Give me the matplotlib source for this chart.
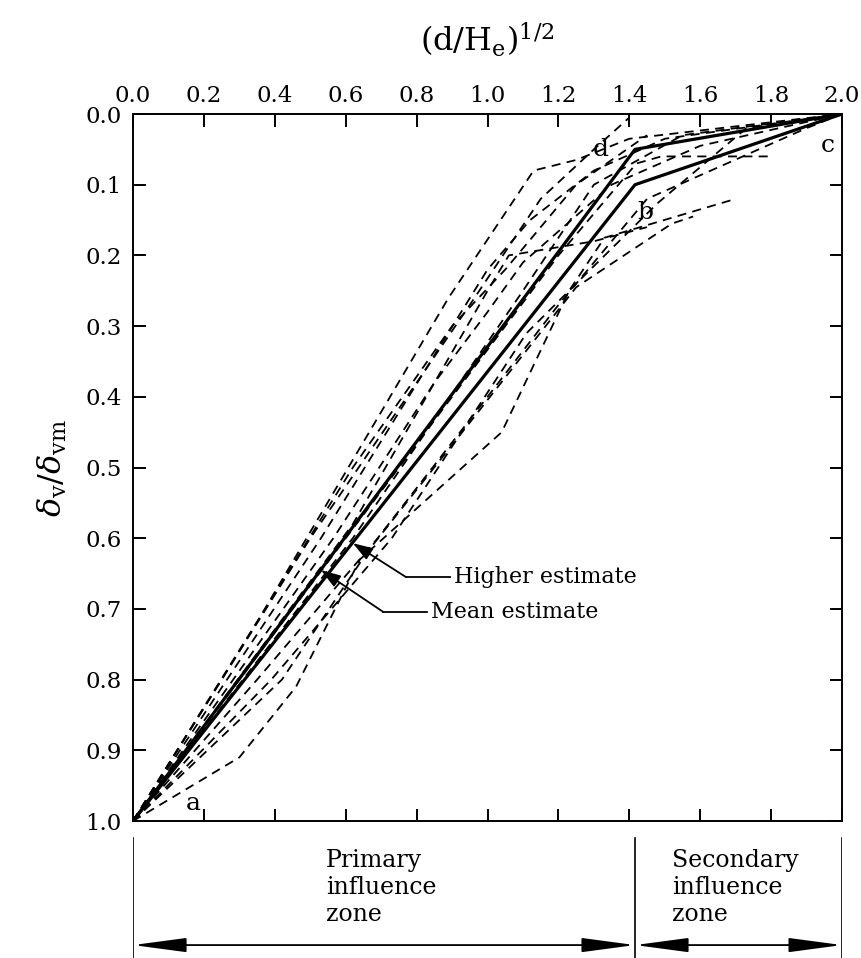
import numpy as np
import matplotlib.pyplot as plt

plt.rcParams['font.family'] = 'DejaVu Serif'
plt.rcParams['mathtext.fontset'] = 'dejavuserif'

# solid design lines  a-d-c (mean) and a-b-c (higher)
mean_x = [0.0, 1.416, 2.0]
mean_y = [1.0, 0.05, 0.0]
high_x = [0.0, 1.416, 2.0]
high_y = [1.0, 0.10, 0.0]

# case history curves (dashed)
case_x = [
    [0.0, 0.36, 0.89, 1.13, 1.25, 1.40, 2.0],
    [0.0, 0.50, 0.95, 1.15, 1.30, 1.40],
    [0.0, 0.53, 1.00, 1.12, 1.30, 1.50, 2.0],
    [0.0, 0.565, 0.85, 1.00, 1.10, 1.35, 1.60, 2.0],
    [0.0, 0.62, 1.00, 1.06, 1.30, 1.45],
    [0.0, 0.60, 1.20, 1.42, 1.49, 1.80],
    [0.0, 0.62, 1.10, 1.30, 1.55, 2.0],
    [0.0, 0.35, 0.69, 1.00, 1.20, 1.45, 1.90, 2.0],
    [0.0, 0.39, 0.73, 1.11, 1.28, 1.48, 1.73, 2.0],
    [0.0, 0.42, 0.66, 0.96, 1.25, 1.52, 1.58],
    [0.0, 0.30, 0.46, 0.64, 1.04, 1.23, 1.33, 1.70],
    [0.0, 0.25, 0.62, 0.90, 1.05, 1.25, 1.45],
]
case_y = [
    [1.0, 0.71, 0.26, 0.08, 0.065, 0.035, 0.0],
    [1.0, 0.60, 0.27, 0.12, 0.05, 0.005],
    [1.0, 0.60, 0.22, 0.15, 0.08, 0.035, 0.0],
    [1.0, 0.60, 0.38, 0.28, 0.21, 0.10, 0.045, 0.0],
    [1.0, 0.58, 0.25, 0.20, 0.18, 0.16],
    [1.0, 0.60, 0.20, 0.07, 0.06, 0.06],
    [1.0, 0.60, 0.25, 0.10, 0.03, 0.0],
    [1.0, 0.80, 0.60, 0.40, 0.27, 0.12, 0.02, 0.0],
    [1.0, 0.80, 0.60, 0.31, 0.225, 0.126, 0.02, 0.0],
    [1.0, 0.80, 0.62, 0.43, 0.245, 0.155, 0.145],
    [1.0, 0.91, 0.81, 0.63, 0.45, 0.25, 0.175, 0.12],
    [1.0, 0.80, 0.50, 0.30, 0.22, 0.10, 0.03],
]

point_labels = ['a', 'b', 'c', 'd']
point_pos = [(0.17, 0.975), (1.445, 0.14), (1.96, 0.044), (1.32, 0.05)]

xticks = np.round(np.arange(0, 2.01, 0.2), 1)
yticks = np.round(np.arange(0, 1.01, 0.1), 1)

fig = plt.figure(figsize=(8.61, 9.58), dpi=100)
ax = fig.add_axes([0.1545, 0.143, 0.8235, 0.738])

for xs, ys in zip(case_x, case_y):
    ax.plot(xs, ys, color='black', lw=1.3, ls=(0, (5, 3.5)))

ax.plot(mean_x, mean_y, color='black', lw=2.3)
ax.plot(high_x, high_y, color='black', lw=2.3)

for lab, (px, py) in zip(point_labels, point_pos):
    ax.text(px, py, lab, fontsize=18, ha='center', va='center')

# leaders for the two estimates
ax.plot([0.895, 0.77], [0.655, 0.655], color='black', lw=1.3)
ax.annotate('', xy=(0.62, 0.607), xytext=(0.77, 0.655),
            arrowprops=dict(arrowstyle='-|>,head_length=0.6,head_width=0.2',
                            lw=1.3, color='black',
                            mutation_scale=20, shrinkA=0, shrinkB=0))
ax.text(0.905, 0.655, 'Higher estimate', fontsize=16, ha='left', va='center')

ax.plot([0.83, 0.705], [0.704, 0.704], color='black', lw=1.3)
ax.annotate('', xy=(0.53, 0.645), xytext=(0.705, 0.704),
            arrowprops=dict(arrowstyle='-|>,head_length=0.6,head_width=0.2',
                            lw=1.3, color='black',
                            mutation_scale=20, shrinkA=0, shrinkB=0))
ax.text(0.84, 0.704, 'Mean estimate', fontsize=16, ha='left', va='center')

ax.set_xlim(0, 2.0)
ax.set_ylim(1.0, 0.0)
ax.set_xticks(xticks)
ax.set_yticks(yticks)
ax.set_xticklabels([f'{v:.1f}' for v in xticks])
ax.set_yticklabels([f'{v:.1f}' for v in yticks])
ax.xaxis.tick_top()
ax.tick_params(axis='both', direction='in', length=9, width=1.4,
               labelsize=16.5, top=True, bottom=True, left=True, right=True)
ax.tick_params(axis='x', pad=5)
ax.tick_params(axis='y', pad=8)
for sp in ax.spines.values():
    sp.set_linewidth(1.4)

ax.xaxis.set_label_position('top')
ax.set_xlabel(r'$(\mathrm{d}/\mathrm{H_e})^{1/2}$', fontsize=23, labelpad=24)
ax.set_ylabel(r'$\delta_{\mathrm{v}}/\delta_{\mathrm{vm}}$', fontsize=23, labelpad=12)

# influence zones below the chart
ax2 = fig.add_axes([0.1545, 0.0, 0.8235, 0.135])
ax2.set_xlim(0, 2.0)
ax2.set_ylim(0, 1)
ax2.axis('off')
for xv in [0.0, 1.416, 2.0]:
    ax2.plot([xv, xv], [0, 0.93], color='black', lw=1.2)
for x0, x1 in [(0.0, 1.416), (1.416, 2.0)]:
    ax2.annotate('', xy=(x1, 0.10), xytext=(x0, 0.10),
                 arrowprops=dict(arrowstyle='<|-|>,head_length=1.5,head_width=0.2',
                                 lw=1.3, color='black',
                                 mutation_scale=22, shrinkA=0, shrinkB=0))
ax2.text(0.545, 0.84, 'Primary\ninfluence\nzone', fontsize=17,
         ha='left', va='top', linespacing=1.2)
ax2.text(1.52, 0.84, 'Secondary\ninfluence\nzone', fontsize=17,
         ha='left', va='top', linespacing=1.2)

fig.savefig('out.png', dpi=100)
